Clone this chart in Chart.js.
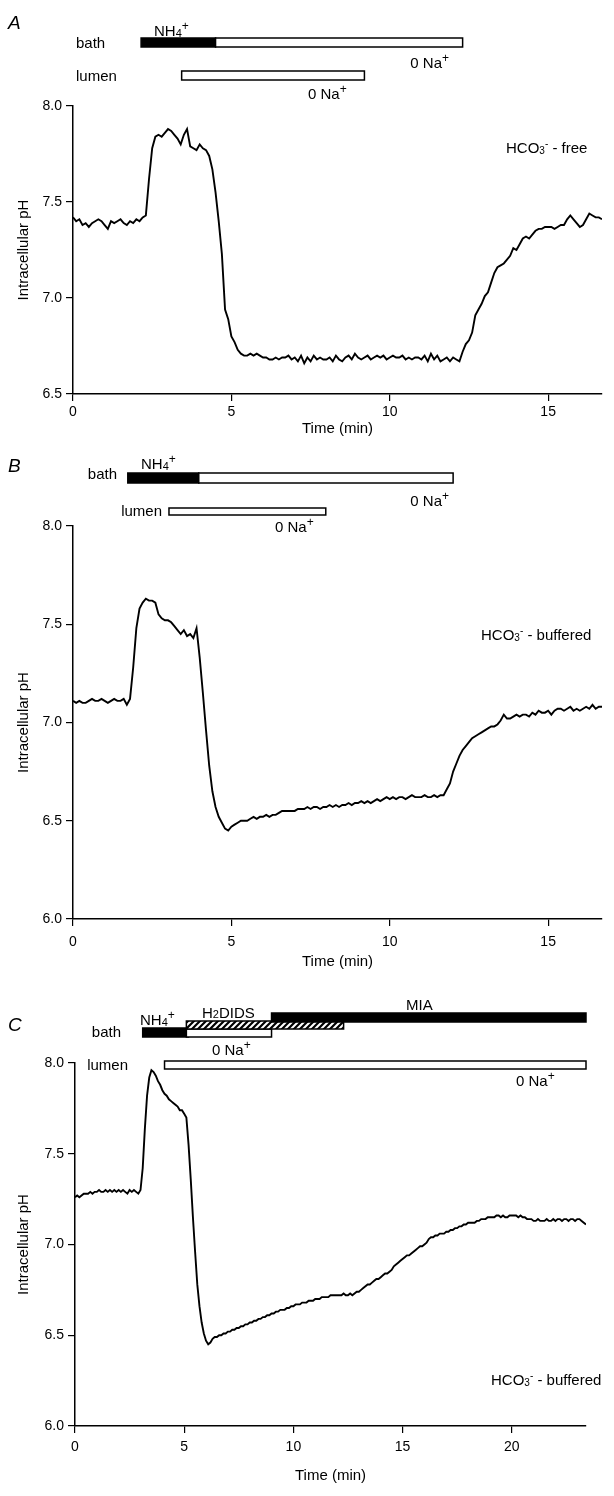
<!DOCTYPE html>
<html>
<head>
<meta charset="utf-8">
<script src="https://cdn.jsdelivr.net/npm/chart.js@4.4.1/dist/chart.umd.min.js"></script>
<style>
  body { margin: 0; background: #fff; width: 614px; height: 1496px; position: relative; overflow: hidden; }
  canvas { position: absolute; left: 0; }
</style>
</head>
<body>
<canvas id="chartA" width="614" height="440" style="top:0px"></canvas>
<canvas id="chartB" width="614" height="535" style="top:440px"></canvas>
<canvas id="chartC" width="614" height="521" style="top:975px"></canvas>
<script>
// traces were sampled every 0.1 min
const stepMin = 0.1;

// A: HCO3- free
const phA = [
  7.42, 7.40, 7.41, 7.38, 7.39, 7.37, 7.39, 7.40, 7.41, 7.40,
  7.38, 7.36, 7.40, 7.39, 7.40, 7.41, 7.39, 7.38, 7.40, 7.39,
  7.41, 7.40, 7.42, 7.43, 7.62, 7.78, 7.84, 7.85, 7.84, 7.86,
  7.88, 7.87, 7.85, 7.83, 7.80, 7.85, 7.88, 7.79, 7.78, 7.77,
  7.80, 7.78, 7.77, 7.74, 7.67, 7.55, 7.40, 7.23, 6.94, 6.89,
  6.80, 6.77, 6.73, 6.71, 6.70, 6.70, 6.71, 6.70, 6.71, 6.70,
  6.69, 6.69, 6.68, 6.68, 6.69, 6.68, 6.69, 6.69, 6.70, 6.68,
  6.69, 6.67, 6.70, 6.66, 6.69, 6.67, 6.70, 6.68, 6.69, 6.68,
  6.68, 6.69, 6.67, 6.70, 6.68, 6.67, 6.69, 6.70, 6.68, 6.71,
  6.69, 6.68, 6.69, 6.70, 6.68, 6.69, 6.70, 6.69, 6.70, 6.68,
  6.69, 6.70, 6.69, 6.69, 6.70, 6.68, 6.69, 6.68, 6.69, 6.69,
  6.68, 6.70, 6.67, 6.71, 6.68, 6.70, 6.67, 6.68, 6.69, 6.67,
  6.69, 6.68, 6.67, 6.72, 6.76, 6.78, 6.82, 6.91, 6.94, 6.97,
  7.01, 7.03, 7.08, 7.13, 7.16, 7.17, 7.18, 7.20, 7.22, 7.26,
  7.25, 7.28, 7.31, 7.32, 7.31, 7.33, 7.35, 7.36, 7.36, 7.37,
  7.37, 7.37, 7.36, 7.37, 7.38, 7.38, 7.41, 7.43, 7.41, 7.39,
  7.37, 7.38, 7.41, 7.44, 7.43, 7.42, 7.42, 7.41
];

// B: HCO3- buffered
const phB = [
  7.11, 7.10, 7.11, 7.10, 7.10, 7.11, 7.12, 7.11, 7.11, 7.12,
  7.11, 7.10, 7.11, 7.12, 7.11, 7.11, 7.12, 7.09, 7.12, 7.28,
  7.48, 7.58, 7.61, 7.63, 7.62, 7.62, 7.61, 7.55, 7.53, 7.52,
  7.52, 7.51, 7.49, 7.47, 7.45, 7.47, 7.44, 7.45, 7.43, 7.48,
  7.33, 7.15, 6.96, 6.78, 6.65, 6.57, 6.52, 6.49, 6.46, 6.45,
  6.47, 6.48, 6.49, 6.50, 6.50, 6.50, 6.51, 6.52, 6.51, 6.52,
  6.52, 6.53, 6.52, 6.53, 6.53, 6.54, 6.55, 6.55, 6.55, 6.55,
  6.55, 6.56, 6.56, 6.56, 6.57, 6.56, 6.57, 6.57, 6.56, 6.57,
  6.57, 6.58, 6.57, 6.58, 6.57, 6.58, 6.58, 6.59, 6.58, 6.59,
  6.59, 6.60, 6.59, 6.60, 6.59, 6.60, 6.61, 6.60, 6.61, 6.62,
  6.61, 6.62, 6.61, 6.62, 6.62, 6.61, 6.62, 6.63, 6.62, 6.62,
  6.62, 6.63, 6.62, 6.62, 6.63, 6.62, 6.63, 6.63, 6.66, 6.69,
  6.75, 6.79, 6.83, 6.86, 6.88, 6.90, 6.92, 6.93, 6.94, 6.95,
  6.96, 6.97, 6.98, 6.98, 6.99, 7.01, 7.04, 7.02, 7.02, 7.03,
  7.04, 7.03, 7.04, 7.04, 7.03, 7.05, 7.04, 7.06, 7.05, 7.05,
  7.06, 7.04, 7.06, 7.07, 7.07, 7.06, 7.07, 7.08, 7.06, 7.07,
  7.06, 7.07, 7.08, 7.07, 7.09, 7.07, 7.08, 7.08
];

// C: HCO3- buffered, H2DIDS + MIA
const phC = [
  7.26, 7.27, 7.26, 7.27, 7.28, 7.28, 7.28, 7.29, 7.28, 7.29,
  7.29, 7.30, 7.29, 7.29, 7.30, 7.29, 7.30, 7.29, 7.30, 7.29,
  7.30, 7.29, 7.30, 7.29, 7.28, 7.30, 7.29, 7.30, 7.29, 7.28,
  7.30, 7.42, 7.64, 7.82, 7.92, 7.96, 7.95, 7.93, 7.90, 7.88,
  7.85, 7.83, 7.82, 7.80, 7.79, 7.78, 7.77, 7.76, 7.74, 7.74,
  7.72, 7.70, 7.55, 7.36, 7.15, 6.96, 6.78, 6.66, 6.57, 6.51,
  6.47, 6.45, 6.46, 6.48, 6.49, 6.49, 6.50, 6.50, 6.51, 6.51,
  6.52, 6.52, 6.53, 6.53, 6.54, 6.54, 6.55, 6.55, 6.56, 6.56,
  6.57, 6.57, 6.58, 6.58, 6.59, 6.59, 6.60, 6.60, 6.61, 6.61,
  6.62, 6.62, 6.63, 6.63, 6.64, 6.64, 6.64, 6.65, 6.65, 6.66,
  6.66, 6.67, 6.67, 6.67, 6.68, 6.68, 6.68, 6.69, 6.69, 6.69,
  6.70, 6.70, 6.70, 6.71, 6.71, 6.71, 6.71, 6.72, 6.72, 6.72,
  6.72, 6.72, 6.72, 6.73, 6.72, 6.72, 6.73, 6.72, 6.73, 6.74,
  6.74, 6.75, 6.76, 6.77, 6.78, 6.78, 6.79, 6.80, 6.81, 6.81,
  6.82, 6.83, 6.84, 6.84, 6.85, 6.86, 6.88, 6.89, 6.90, 6.91,
  6.92, 6.93, 6.94, 6.94, 6.95, 6.96, 6.97, 6.98, 6.99, 6.99,
  7.00, 7.01, 7.03, 7.04, 7.04, 7.05, 7.05, 7.06, 7.06, 7.06,
  7.07, 7.07, 7.08, 7.08, 7.09, 7.09, 7.10, 7.10, 7.11, 7.11,
  7.12, 7.12, 7.12, 7.12, 7.13, 7.13, 7.14, 7.14, 7.14, 7.15,
  7.15, 7.15, 7.15, 7.16, 7.16, 7.15, 7.16, 7.15, 7.15, 7.16,
  7.16, 7.16, 7.16, 7.15, 7.16, 7.15, 7.15, 7.14, 7.14, 7.14,
  7.13, 7.13, 7.14, 7.13, 7.13, 7.13, 7.14, 7.13, 7.13, 7.14,
  7.13, 7.14, 7.14, 7.13, 7.14, 7.14, 7.13, 7.14, 7.14, 7.13,
  7.14, 7.14, 7.13, 7.12, 7.11
];

// solution changes, [start, end] in min
const bathNH4A = [2.15, 4.5];
const bathNaFreeA = [4.5, 12.3];
const lumenNaFreeA = [3.43, 9.2];

const bathNH4B = [1.73, 3.97];
const bathNaFreeB = [3.97, 12.0];
const lumenNaFreeB = [3.03, 7.98];

const bathNH4C = [3.1, 5.2];
const bathH2DIDSC = [5.1, 12.3];
const bathNaFreeC = [5.1, 9.0];
const bathMIAC = [9.0, 23.4];
const lumenNaFreeC = [4.1, 23.4];

const FONT = '"Liberation Sans", Arial, sans-serif';

function hatchPattern(ctx) {
  const c = document.createElement("canvas");
  c.width = 6; c.height = 6;
  const g = c.getContext("2d");
  g.fillStyle = "#fff";
  g.fillRect(0, 0, 6, 6);
  g.strokeStyle = "#000";
  g.lineWidth = 2.2;
  g.beginPath();
  g.moveTo(-1, 7); g.lineTo(7, -1);
  g.moveTo(-4, 4); g.lineTo(4, -4);
  g.moveTo(2, 10); g.lineTo(10, 2);
  g.stroke();
  return ctx.createPattern(c, "repeat");
}

function drawRich(ctx, parts, x, y, align) {
  let w = 0;
  parts.forEach((p) => {
    ctx.font = p[1] + "px " + FONT;
    w += ctx.measureText(p[0]).width;
  });
  let cx = align === "right" ? x - w : x;
  parts.forEach((p) => {
    ctx.font = p[1] + "px " + FONT;
    ctx.fillText(p[0], cx, y + p[2]);
    cx += ctx.measureText(p[0]).width;
  });
}

const NH4 = [["NH", 15, 0], ["4", 11, 1], ["+", 12, -6]];
const NA0 = [["0 Na", 15, 0], ["+", 12, -6]];
const H2DIDS = [["H", 15, 0], ["2", 11, 0], ["DIDS", 15, 0]];
function hco3(rest) {
  return [["HCO", 15, 0], ["3", 10, 1], ["-", 10, -6], [rest, 15, 0]];
}

// page coordinates for the labels and bars of each panel
const panels = [
  {
    id: "chartA", canvasTop: 0, canvasH: 440,
    area: { top: 106, bottom: 394, left: 73, right: 602 },
    xMax: 16.7, yMin: 6.5, data: phA, tickPad: 3, titlePad: 2,
    letter: ["A", 8, 29],
    bars: [
      { t: bathNH4A, y0: 38, y1: 47, fill: "black" },
      { t: bathNaFreeA, y0: 38, y1: 47, fill: "white" },
      { t: lumenNaFreeA, y0: 71, y1: 80, fill: "white" }
    ],
    texts: [
      { parts: [["bath", 15, 0]], x: 76, y: 48 },
      { parts: NH4, x: 154, y: 36 },
      { parts: NA0, x: 449, y: 68, align: "right" },
      { parts: [["lumen", 15, 0]], x: 76, y: 81 },
      { parts: NA0, x: 308, y: 99 },
      { parts: hco3(" - free"), x: 506, y: 153 }
    ]
  },
  {
    id: "chartB", canvasTop: 440, canvasH: 535,
    area: { top: 526, bottom: 919, left: 73, right: 602 },
    xMax: 16.7, yMin: 6.0, data: phB, tickPad: 8, titlePad: 4,
    letter: ["B", 8, 472],
    bars: [
      { t: bathNH4B, y0: 473, y1: 483, fill: "black" },
      { t: bathNaFreeB, y0: 473, y1: 483, fill: "white" },
      { t: lumenNaFreeB, y0: 508, y1: 515, fill: "white" }
    ],
    texts: [
      { parts: [["bath", 15, 0]], x: 117, y: 479, align: "right" },
      { parts: NH4, x: 141, y: 469 },
      { parts: NA0, x: 449, y: 506, align: "right" },
      { parts: [["lumen", 15, 0]], x: 162, y: 516, align: "right" },
      { parts: NA0, x: 275, y: 532 },
      { parts: hco3(" - buffered"), x: 481, y: 640 }
    ]
  },
  {
    id: "chartC", canvasTop: 975, canvasH: 521,
    area: { top: 1063, bottom: 1426, left: 75, right: 586 },
    xMax: 23.4, yMin: 6.0, data: phC, tickPad: 6, titlePad: 11,
    letter: ["C", 8, 1031],
    bars: [
      { t: bathNH4C, y0: 1028, y1: 1037, fill: "black" },
      { t: bathNaFreeC, y0: 1029, y1: 1037, fill: "white" },
      { t: bathH2DIDSC, y0: 1021, y1: 1029, fill: "hatch" },
      { t: bathMIAC, y0: 1013, y1: 1022, fill: "black" },
      { t: lumenNaFreeC, y0: 1061, y1: 1069, fill: "white" }
    ],
    texts: [
      { parts: [["bath", 15, 0]], x: 121, y: 1037, align: "right" },
      { parts: NH4, x: 140, y: 1025 },
      { parts: H2DIDS, x: 202, y: 1018 },
      { parts: [["MIA", 15, 0]], x: 406, y: 1010 },
      { parts: NA0, x: 212, y: 1055 },
      { parts: [["lumen", 15, 0]], x: 128, y: 1070, align: "right" },
      { parts: NA0, x: 516, y: 1086 },
      { parts: hco3(" - buffered"), x: 491, y: 1385 }
    ]
  }
];

const decorPlugin = {
  id: "decor",
  afterDraw(chart) {
    const P = chart.options.plugins.decor.panel;
    const ctx = chart.ctx;
    const xs = chart.scales.x;
    const off = P.canvasTop;
    ctx.save();
    ctx.fillStyle = "#000";
    ctx.textBaseline = "alphabetic";
    ctx.font = "italic 19px " + FONT;
    ctx.fillText(P.letter[0], P.letter[1], P.letter[2] - off);

    P.bars.forEach((b) => {
      const x0 = xs.getPixelForValue(b.t[0]);
      const x1 = xs.getPixelForValue(b.t[1]);
      const y0 = b.y0 - off;
      const h = b.y1 - b.y0;
      if (b.fill === "black") ctx.fillStyle = "#000";
      else if (b.fill === "hatch") ctx.fillStyle = hatchPattern(ctx);
      else ctx.fillStyle = "#fff";
      ctx.fillRect(x0, y0, x1 - x0, h);
      ctx.strokeStyle = "#000";
      ctx.lineWidth = 1.5;
      ctx.strokeRect(x0, y0, x1 - x0, h);
    });

    ctx.fillStyle = "#000";
    P.texts.forEach((t) => drawRich(ctx, t.parts, t.x, t.y - off, t.align));
    ctx.restore();
  }
};

function makeChart(P) {
  const el = document.getElementById(P.id);
  const pts = P.data.map((v, i) => ({ x: Math.round(i * stepMin * 10) / 10, y: v }));
  return new Chart(el, {
    type: "line",
    data: {
      datasets: [
        {
          data: pts,
          borderColor: "#000",
          borderWidth: 1.9,
          pointRadius: 0,
          tension: 0,
          fill: false
        }
      ]
    },
    options: {
      responsive: false,
      animation: false,
      events: [],
      layout: {
        autoPadding: false,
        padding: { left: 0, right: 614 - P.area.right, top: P.area.top - P.canvasTop, bottom: 0 }
      },
      plugins: {
        legend: { display: false },
        tooltip: { enabled: false },
        decor: { panel: P }
      },
      scales: {
        x: {
          type: "linear",
          min: 0,
          max: P.xMax,
          afterFit: (s) => { s.height = P.canvasTop + P.canvasH - P.area.bottom; },
          ticks: {
            stepSize: 5, includeBounds: false, maxRotation: 0, autoSkip: false,
            color: "#000", padding: P.tickPad, font: { size: 14, family: FONT },
            callback: (v) => String(v)
          },
          grid: { drawOnChartArea: false, drawTicks: true, tickLength: 7, color: "#000", lineWidth: 1.2 },
          border: { display: true, color: "#000", width: 1.5 },
          title: {
            display: true, text: "Time (min)", color: "#000",
            font: { size: 15, family: FONT }, padding: { top: 0, bottom: P.titlePad }
          }
        },
        y: {
          min: P.yMin,
          max: 8.0,
          afterFit: (s) => { s.width = P.area.left; },
          ticks: {
            stepSize: 0.5, color: "#000", padding: 4, font: { size: 14, family: FONT },
            callback: (v) => v.toFixed(1)
          },
          grid: { drawOnChartArea: false, drawTicks: true, tickLength: 7, color: "#000", lineWidth: 1.2 },
          border: { display: true, color: "#000", width: 1.5 },
          title: {
            display: true, text: "Intracellular pH", color: "#000",
            font: { size: 15, family: FONT }, padding: { top: 15, bottom: 0 }
          }
        }
      }
    },
    plugins: [decorPlugin]
  });
}

document.addEventListener("DOMContentLoaded", () => {
  panels.forEach((p) => makeChart(p));
});
</script>
</body>
</html>
